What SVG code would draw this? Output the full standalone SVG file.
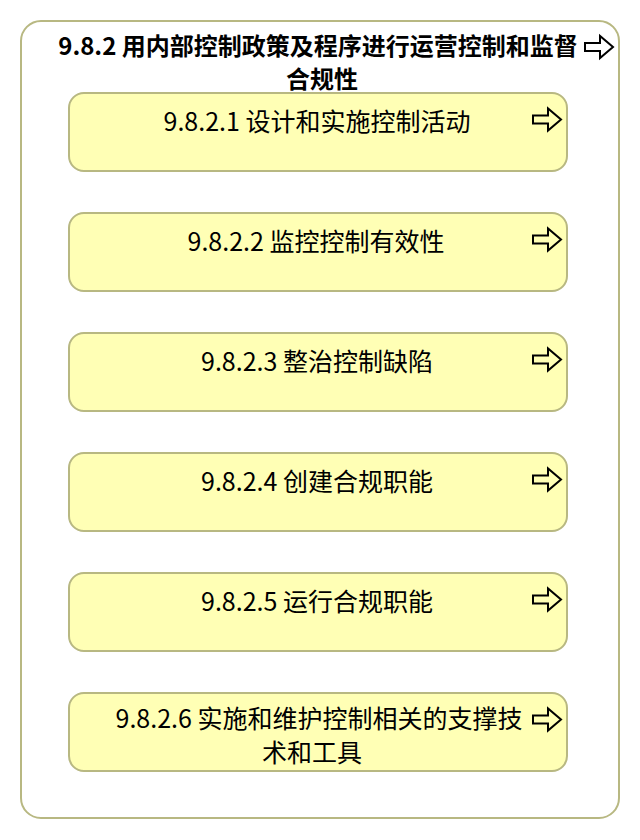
<svg xmlns="http://www.w3.org/2000/svg" width="640" height="840" viewBox="0 0 640 840">
<style>
.outer{fill:#ffffff;stroke:#b8b882;stroke-width:2}
.box{fill:#ffffb5;stroke:#b8b882;stroke-width:2}
.t{font-family:"Noto Sans CJK SC","Noto Sans",sans-serif;font-size:25px;fill:#000;text-anchor:middle}
.tb{font-weight:bold;font-size:24px}
.arr{fill:none;stroke:#000;stroke-width:2;stroke-linejoin:miter}
</style>
<defs>
<path id="arrow" class="arr" d="M0,-4 H15 V-11 L28,0 L15,11 V4 H0 Z"/>
</defs>
<rect width="640" height="840" fill="#ffffff"/>
<g id="n982">
<rect class="outer" x="21" y="21" width="598" height="797" rx="20"/>
<text class="t tb" x="318" y="55">9.8.2 用内部控制政策及程序进行运营控制和监督</text>
<text class="t tb" x="322" y="88">合规性</text>
<use href="#arrow" x="585" y="47"/>
</g>
<g id="n9821">
<rect class="box" x="69" y="93" width="498" height="78" rx="15"/>
<text class="t" x="317" y="131">9.8.2.1 设计和实施控制活动</text>
<use href="#arrow" x="533" y="119.5"/>
</g>
<g id="n9822">
<rect class="box" x="69" y="213" width="498" height="78" rx="15"/>
<text class="t" x="316" y="251">9.8.2.2 监控控制有效性</text>
<use href="#arrow" x="533" y="239.5"/>
</g>
<g id="n9823">
<rect class="box" x="69" y="333" width="498" height="78" rx="15"/>
<text class="t" x="317" y="371">9.8.2.3 整治控制缺陷</text>
<use href="#arrow" x="533" y="359.5"/>
</g>
<g id="n9824">
<rect class="box" x="69" y="453" width="498" height="78" rx="15"/>
<text class="t" x="317" y="491">9.8.2.4 创建合规职能</text>
<use href="#arrow" x="533" y="479.5"/>
</g>
<g id="n9825">
<rect class="box" x="69" y="573" width="498" height="78" rx="15"/>
<text class="t" x="317" y="611">9.8.2.5 运行合规职能</text>
<use href="#arrow" x="533" y="599.5"/>
</g>
<g id="n9826">
<rect class="box" x="69" y="693" width="498" height="78" rx="15"/>
<text class="t" x="319" y="728">9.8.2.6 实施和维护控制相关的支撑技</text>
<text class="t" x="312" y="762">术和工具</text>
<use href="#arrow" x="533" y="719.5"/>
</g>
<g id="connectors"></g>
</svg>
